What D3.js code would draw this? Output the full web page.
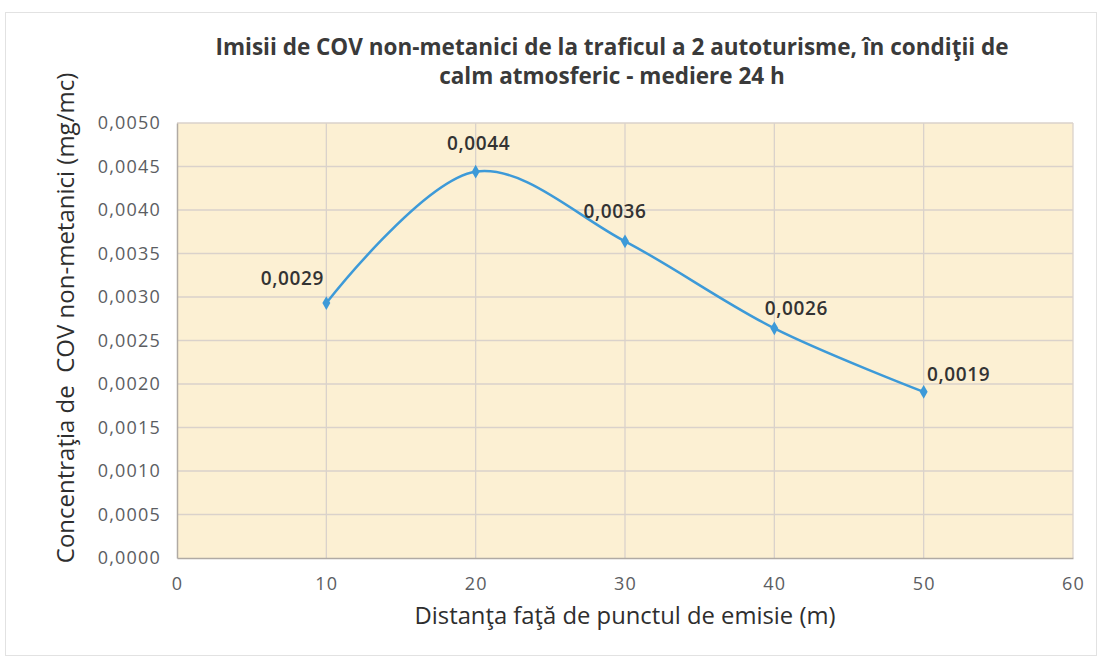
<!DOCTYPE html>
<html>
<head>
  <meta charset="utf-8">
  <title>Imisii COV non-metanici</title>
  <script src="https://d3js.org/d3.v7.min.js"></script>
  <style>
    body { margin: 0; background: #fff; }
    text { font-family: "Open Sans", "Liberation Sans", sans-serif; }
  </style>
</head>
<body>
  <script>
    // date
    const distances = [10, 20, 30, 40, 50];
    const concentrations = [0.00293, 0.00444, 0.00364, 0.00264, 0.00191];
    const xTicks = [0, 10, 20, 30, 40, 50, 60];
    const yTicks = [0, 0.0005, 0.001, 0.0015, 0.002, 0.0025, 0.003, 0.0035, 0.004, 0.0045, 0.005];
    const titleLines = ["Imisii de COV non-metanici de la traficul a 2 autoturisme, în condiţii de",
                        "calm atmosferic - mediere 24 h"];
    // deplasarea etichetelor fata de puncte (px)
    const labelOffsets = [[-34, -18], [3, -22], [-10, -23], [22, -13], [35, -11]];

    const W = 1099, H = 661;
    const margin = {top: 123, right: 26, bottom: 103, left: 177};
    const width = W - margin.left - margin.right,
          height = H - margin.top - margin.bottom;

    const fmt = v => d3.format(".4f")(v).replace(".", ",");

    const svg = d3.select("body").append("svg")
        .attr("width", W).attr("height", H);

    // chenarul exterior
    svg.append("rect")
        .attr("x", 5.5).attr("y", 12.5)
        .attr("width", W - 8).attr("height", H - 18)
        .attr("fill", "#fff").attr("stroke", "#e2e2e2");

    // titlu
    svg.append("g").selectAll("text")
      .data(titleLines).enter()
      .append("text")
        .attr("x", 612)
        .attr("y", (d, i) => 55 + i * 29)
        .attr("text-anchor", "middle")
        .style("font-size", "22.5px")
        .style("font-weight", "bold")
        .style("fill", "#3a3a3a")
        .text(d => d);

    const g = svg.append("g")
        .attr("transform", `translate(${margin.left},${margin.top})`);

    const x = d3.scaleLinear().domain([0, 60]).range([0, width]);
    const y = d3.scaleLinear().domain([0, 0.005]).range([height, 0]);

    g.append("rect")
        .attr("width", width).attr("height", height)
        .attr("fill", "#fcf0d3");

    // linii de grila
    g.append("g").selectAll("line")
      .data(yTicks.slice(1)).enter()
      .append("line")
        .attr("x1", 0).attr("x2", width)
        .attr("y1", d => y(d)).attr("y2", d => y(d))
        .attr("stroke", "#dad2cb").attr("stroke-width", 1.3);

    g.append("g").selectAll("line")
      .data(xTicks.slice(1)).enter()
      .append("line")
        .attr("y1", 0).attr("y2", height)
        .attr("x1", d => x(d)).attr("x2", d => x(d))
        .attr("stroke", "#dad2cb").attr("stroke-width", 1.3);

    // axe
    const xAxis = g.append("g")
        .attr("transform", `translate(0,${height})`)
        .call(d3.axisBottom(x).tickValues(xTicks).tickSize(0).tickPadding(19));
    const yAxis = g.append("g")
        .call(d3.axisLeft(y).tickValues(yTicks).tickFormat(fmt).tickSize(0).tickPadding(16));

    [xAxis, yAxis].forEach(a => {
      a.select(".domain").attr("stroke", "#b0aaa4").attr("stroke-width", 1.5);
      a.selectAll("text")
        .style("font-size", "18px")
        .style("letter-spacing", "1.2px")
        .style("fill", "#5b5d62")
        .style("font-family", "\"Open Sans\", sans-serif");
    });

    // titluri axe
    svg.append("text")
        .attr("x", margin.left + width / 2)
        .attr("y", 624)
        .attr("text-anchor", "middle")
        .style("font-size", "23.8px")
        .style("fill", "#2e2e2e")
        .text("Distanţa faţă de punctul de emisie (m)");

    svg.append("text")
        .attr("transform", "translate(74,318) rotate(-90)")
        .attr("text-anchor", "middle")
        .style("font-size", "24px")
        .style("fill", "#2e2e2e")
        .style("white-space", "pre")
        .text("Concentraţia de  COV non-metanici (mg/mc)");

    // seria
    const data = distances.map((d, i) => ({d: d, c: concentrations[i]}));

    const line = d3.line()
        .x(p => x(p.d))
        .y(p => y(p.c))
        .curve(d3.curveCatmullRom.alpha(0.5));

    g.append("path")
        .datum(data)
        .attr("d", line)
        .attr("fill", "none")
        .attr("stroke", "#3d9ad8")
        .attr("stroke-width", 2.5);

    g.append("g").selectAll("path")
      .data(data).enter()
      .append("path")
        .attr("transform", p => `translate(${x(p.d)},${y(p.c)})`)
        .attr("d", d3.symbol(d3.symbolDiamond, 55))
        .attr("fill", "#3d9ad8");

    g.append("g").selectAll("text")
      .data(data).enter()
      .append("text")
        .attr("x", (p, i) => x(p.d) + labelOffsets[i][0])
        .attr("y", (p, i) => y(p.c) + labelOffsets[i][1])
        .attr("text-anchor", "middle")
        .style("font-size", "19px")
        .style("font-weight", "600")
        .style("letter-spacing", "0.6px")
        .style("fill", "#333")
        .text(p => fmt(p.c));
  </script>
</body>
</html>
